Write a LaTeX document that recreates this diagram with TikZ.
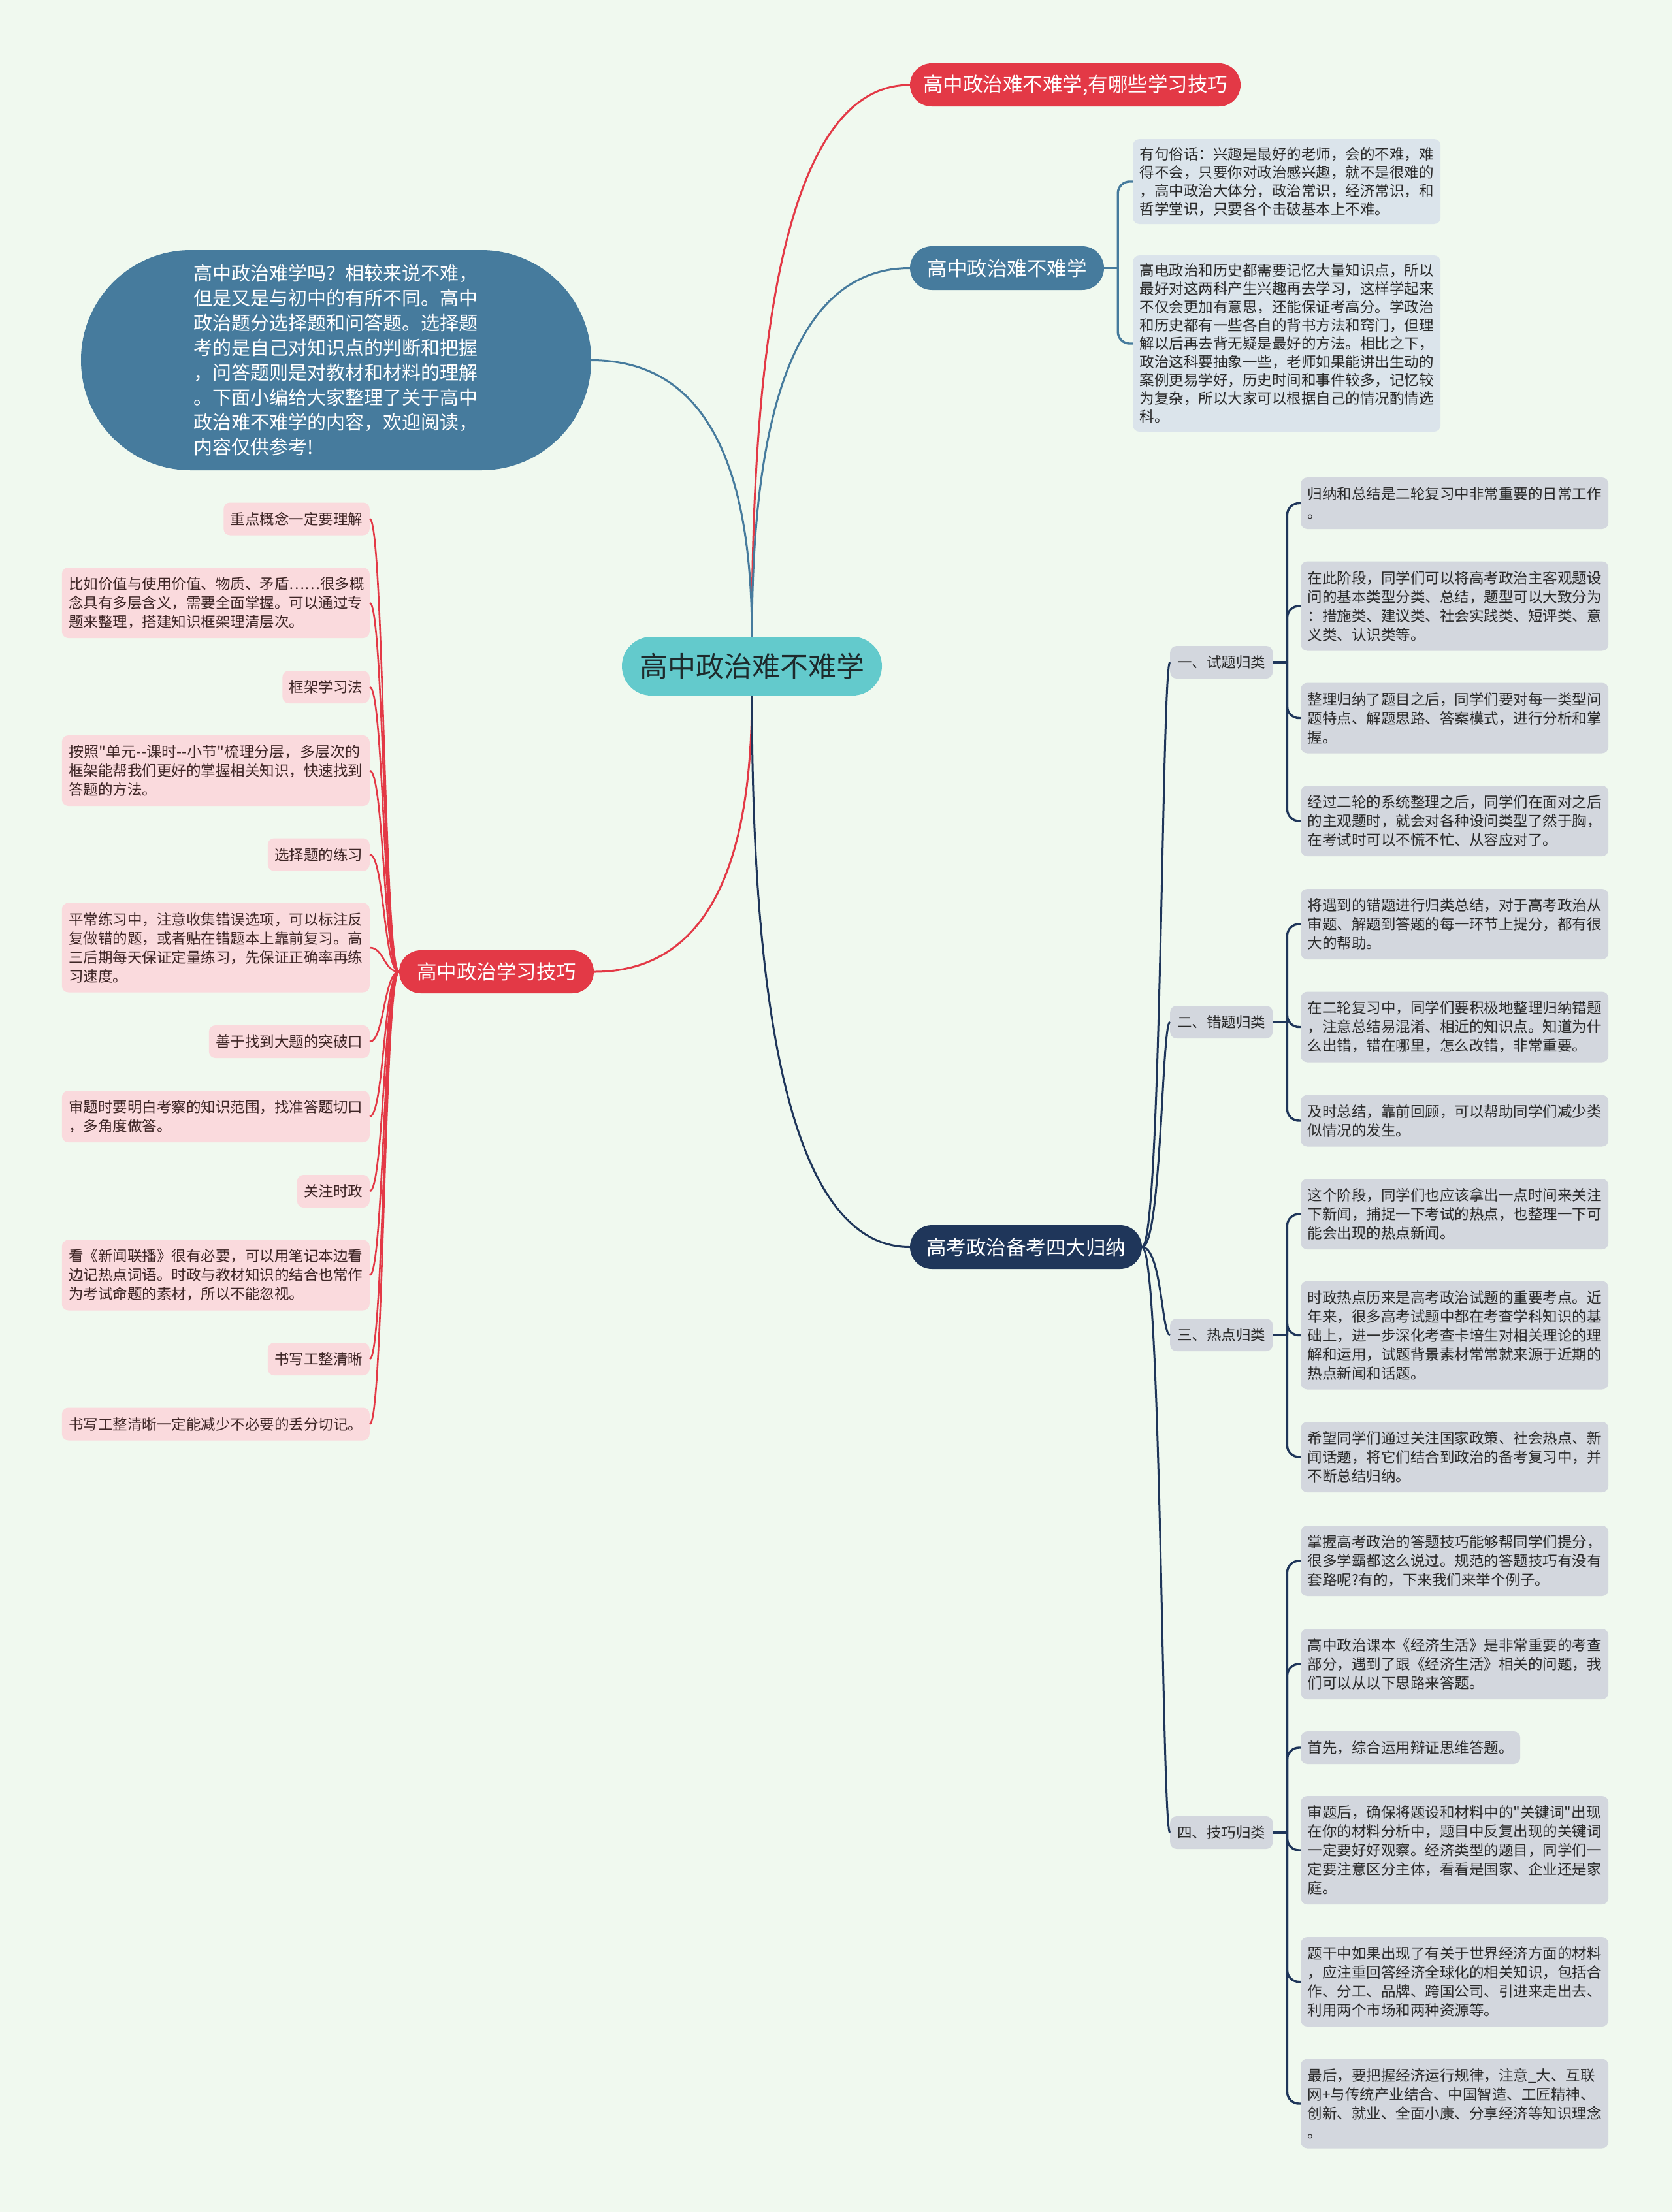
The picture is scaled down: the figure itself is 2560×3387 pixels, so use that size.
\documentclass[tikz,border=0pt]{standalone}
\usepackage{fontspec}
\setmainfont{Noto Sans CJK SC}[Ligatures=TeXOff]
\usetikzlibrary{calc}
\definecolor{bgc}{HTML}{F0F9EF}
\definecolor{ctrfill}{HTML}{63CACC}
\definecolor{ctrtext}{HTML}{1E2A2C}
\definecolor{redc}{HTML}{E33946}
\definecolor{steelc}{HTML}{467B9D}
\definecolor{navyc}{HTML}{1F365A}
\definecolor{pinkc}{HTML}{FADADD}
\definecolor{pinktext}{HTML}{3E2626}
\definecolor{bluegray}{HTML}{DBE4EB}
\definecolor{grayc}{HTML}{D3D7DE}
\definecolor{graytext}{HTML}{2B2B2B}
\tikzset{
  pillnode/.style={inner sep=0pt, text=white, font=\fontsize{30.5}{36}\selectfont},
  txtbox/.style={rounded corners=10pt, inner xsep=10.5pt, inner ysep=3pt, align=left, font=\fontsize{22.5}{29}\selectfont},
  pinkbox/.style={txtbox, fill=pinkc, text=pinktext, anchor=east},
  graybox/.style={txtbox, fill=grayc, text=graytext, anchor=west},
  bluebox/.style={txtbox, fill=bluegray, text=graytext, anchor=west, font=\fontsize{22.5}{28}\selectfont, text width=450pt},
  catbox/.style={txtbox, fill=grayc, text=graytext, anchor=west, minimum height=50pt, minimum width=157pt},
  tw/.style={text width=450pt},
  nl/.style={minimum height={21+29*#1}},
  nb/.style={minimum height={18+28*#1}},
  quadv/.style={to path={.. controls ($(\tikztostart)!0.6667!(\tikztostart|-\tikztotarget)$) and ($(\tikztotarget)!0.6667!(\tikztostart|-\tikztotarget)$) .. (\tikztotarget)}},
  spinec/.style={to path={.. controls ($(\tikztostart)+(#1,0)$) and ($(\tikztostart|-\tikztotarget)+(#1,0)$) .. (\tikztotarget)}},
  mainline/.style={line width=3pt},
  subline/.style={line width=2.6pt},
  brk/.style={line width=3.4pt, rounded corners=18pt},
}
\begin{document}
\begin{tikzpicture}[x=1pt,y=-1pt]
\fill[bgc] (0,0) rectangle (2560,3387);
\useasboundingbox (0,0) rectangle (2560,3387);

% ---------- main nodes ----------
\node[pillnode, fill=ctrfill, text=ctrtext, rounded corners=45pt, minimum width=398pt, minimum height=90pt, font=\fontsize{43}{50}\selectfont] (ctr) at (1151,1020) {高中政治难不难学};
\node[pillnode, fill=redc, rounded corners=33pt, minimum width=506pt, minimum height=66pt] (top1) at (1646,130) {高中政治难不难学,有哪些学习技巧};
\node[pillnode, fill=steelc, rounded corners=33.5pt, minimum width=297pt, minimum height=67pt] (bn) at (1541.5,410.5) {高中政治难不难学};
\node[pillnode, fill=steelc, rounded corners=168pt, minimum width=781pt, minimum height=337pt, text width=436pt, align=left, font=\fontsize{29}{38}\selectfont] (intro) at (514.5,551.5) {高中政治难学吗？相较来说不难，\\但是又是与初中的有所不同。高中\\政治题分选择题和问答题。选择题\\考的是自己对知识点的判断和把握\\，问答题则是对教材和材料的理解\\。下面小编给大家整理了关于高中\\政治难不难学的内容，欢迎阅读，\\内容仅供参考!};
\node[pillnode, fill=redc, rounded corners=33pt, minimum width=298pt, minimum height=66pt] (rl) at (760,1488) {高中政治学习技巧};
\node[pillnode, fill=navyc, rounded corners=33.5pt, minimum width=355pt, minimum height=67pt] (nv) at (1570.5,1909.5) {高考政治备考四大归纳};

% ---------- blue children ----------
\node[bluebox, nb=4] (b1) at (1734,278) {有句俗话：兴趣是最好的老师，会的不难，难\\得不会，只要你对政治感兴趣，就不是很难的\\，高中政治大体分，政治常识，经济常识，和\\哲学堂识，只要各个击破基本上不难。};
\node[bluebox, nb=9] (b2) at (1734,526) {高电政治和历史都需要记忆大量知识点，所以\\最好对这两科产生兴趣再去学习，这样学起来\\不仅会更加有意思，还能保证考高分。学政治\\和历史都有一些各自的背书方法和窍门，但理\\解以后再去背无疑是最好的方法。相比之下，\\政治这科要抽象一些，老师如果能讲出生动的\\案例更易学好，历史时间和事件较多，记忆较\\为复杂，所以大家可以根据自己的情况酌情选\\科。};

% ---------- left pink boxes ----------
\node[pinkbox, nl=1] (l1) at (566,794.5) {重点概念一定要理解};
\node[pinkbox, tw, nl=3] (l2) at (566,923) {比如价值与使用价值、物质、矛盾……很多概\\念具有多层含义，需要全面掌握。可以通过专\\题来整理，搭建知识框架理清层次。};
\node[pinkbox, nl=1] (l3) at (566,1052) {框架学习法};
\node[pinkbox, tw, nl=3] (l4) at (566,1180) {\resizebox{446pt}{\height}{按照"单元--课时--小节"梳理分层，多层次的}\\框架能帮我们更好的掌握相关知识，快速找到\\答题的方法。};
\node[pinkbox, nl=1] (l5) at (566,1308.5) {选择题的练习};
\node[pinkbox, tw, nl=4] (l6) at (566,1451) {平常练习中，注意收集错误选项，可以标注反\\复做错的题，或者贴在错题本上靠前复习。高\\三后期每天保证定量练习，先保证正确率再练\\习速度。};
\node[pinkbox, nl=1] (l7) at (566,1595) {善于找到大题的突破口};
\node[pinkbox, tw, nl=2] (l8) at (566,1709.5) {审题时要明白考察的知识范围，找准答题切口\\，多角度做答。};
\node[pinkbox, nl=1] (l9) at (566,1824) {关注时政};
\node[pinkbox, tw, nl=3] (l10) at (566,1952.5) {看《新闻联播》很有必要，可以用笔记本边看\\边记热点词语。时政与教材知识的结合也常作\\为考试命题的素材，所以不能忽视。};
\node[pinkbox, nl=1] (l11) at (566,2081) {书写工整清晰};
\node[pinkbox, nl=1] (l12) at (566,2180.5) {书写工整清晰一定能减少不必要的丢分切记。};

% ---------- right categories ----------
\node[catbox] (c1) at (1791,1014) {一、试题归类};
\node[catbox] (c2) at (1791,1565) {二、错题归类};
\node[catbox] (c3) at (1791,2044) {三、热点归类};
\node[catbox] (c4) at (1791,2806) {四、技巧归类};

\node[graybox, tw, nl=2] (c1a) at (1991,770.5) {归纳和总结是二轮复习中非常重要的日常工作\\。};
\node[graybox, tw, nl=4] (c1b) at (1991,928) {在此阶段，同学们可以将高考政治主客观题设\\问的基本类型分类、总结，题型可以大致分为\\：措施类、建议类、社会实践类、短评类、意\\义类、认识类等。};
\node[graybox, tw, nl=3] (c1c) at (1991,1099.5) {整理归纳了题目之后，同学们要对每一类型问\\题特点、解题思路、答案模式，进行分析和掌\\握。};
\node[graybox, tw, nl=3] (c1d) at (1991,1257) {经过二轮的系统整理之后，同学们在面对之后\\的主观题时，就会对各种设问类型了然于胸，\\在考试时可以不慌不忙、从容应对了。};

\node[graybox, tw, nl=3] (c2a) at (1991,1415) {将遇到的错题进行归类总结，对于高考政治从\\审题、解题到答题的每一环节上提分，都有很\\大的帮助。};
\node[graybox, tw, nl=3] (c2b) at (1991,1572.5) {在二轮复习中，同学们要积极地整理归纳错题\\，注意总结易混淆、相近的知识点。知道为什\\么出错，错在哪里，怎么改错，非常重要。};
\node[graybox, tw, nl=2] (c2c) at (1991,1716) {及时总结，靠前回顾，可以帮助同学们减少类\\似情况的发生。};

\node[graybox, tw, nl=3] (c3a) at (1991,1859) {这个阶段，同学们也应该拿出一点时间来关注\\下新闻，捕捉一下考试的热点，也整理一下可\\能会出现的热点新闻。};
\node[graybox, tw, nl=5] (c3b) at (1991,2044.5) {时政热点历来是高考政治试题的重要考点。近\\年来，很多高考试题中都在考查学科知识的基\\础上，进一步深化考查卡培生对相关理论的理\\解和运用，试题背景素材常常就来源于近期的\\热点新闻和话题。};
\node[graybox, tw, nl=3] (c3c) at (1991,2231) {希望同学们通过关注国家政策、社会热点、新\\闻话题，将它们结合到政治的备考复习中，并\\不断总结归纳。};

\node[graybox, tw, nl=3] (c4a) at (1991,2390) {掌握高考政治的答题技巧能够帮同学们提分，\\很多学霸都这么说过。规范的答题技巧有没有\\套路呢?有的，下来我们来举个例子。};
\node[graybox, tw, nl=3] (c4b) at (1991,2548) {高中政治课本《经济生活》是非常重要的考查\\部分，遇到了跟《经济生活》相关的问题，我\\们可以从以下思路来答题。};
\node[graybox, nl=1] (c4c) at (1991,2676) {首先，综合运用辩证思维答题。};
\node[graybox, tw, nl=5] (c4d) at (1991,2833) {审题后，确保将题设和材料中的"关键词"出现\\在你的材料分析中，题目中反复出现的关键词\\一定要好好观察。经济类型的题目，同学们一\\定要注意区分主体，看看是国家、企业还是家\\庭。};
\node[graybox, tw, nl=4] (c4e) at (1991,3034.5) {题干中如果出现了有关于世界经济方面的材料\\，应注重回答经济全球化的相关知识，包括合\\作、分工、品牌、跨国公司、引进来走出去、\\利用两个市场和两种资源等。};
\node[graybox, tw, nl=4] (c4f) at (1991,3221) {最后，要把握经济运行规律，注意\_大、互联\\网+与传统产业结合、中国智造、工匠精神、\\创新、就业、全面小康、分享经济等知识理念\\。};

% ---------- connectors from center ----------
\draw[mainline, redc] (ctr.north) to[quadv] (top1.west);
\draw[mainline, steelc] (ctr.north) to[quadv] (bn.west);
\draw[mainline, steelc] (ctr.north) to[quadv] (intro.east);
\draw[mainline, redc] (ctr.south) to[quadv] (rl.east);
\draw[mainline, navyc] (ctr.south) to[quadv] (nv.west);

% ---------- blue bracket ----------
\coordinate (bnj) at ($(bn.east)+(21,0)$);
\draw[brk, steelc] (bn.east) -- (bnj);
\draw[brk, steelc] (bnj) |- (b1.west);
\draw[brk, steelc] (bnj) |- (b2.west);

% ---------- red spine ----------
\foreach \n in {l1,l2,l3,l4,l5,l6,l7,l8,l9,l10,l11,l12}
  \draw[subline, redc] (rl.west) to[spinec=-23] (\n.east);

% ---------- navy spine ----------
\foreach \n in {c1,c2,c3,c4}
  \draw[mainline, navyc] (nv.east) to[spinec=30] (\n.west);

% ---------- category brackets ----------
\coordinate (c1j) at ($(c1.east)+(22,0)$);
\coordinate (c2j) at ($(c2.east)+(22,0)$);
\coordinate (c3j) at ($(c3.east)+(22,0)$);
\coordinate (c4j) at ($(c4.east)+(22,0)$);
\draw[brk, navyc] (c1.east) -- (c1j);
\draw[brk, navyc] (c2.east) -- (c2j);
\draw[brk, navyc] (c3.east) -- (c3j);
\draw[brk, navyc] (c4.east) -- (c4j);
\foreach \n in {c1a,c1b,c1c,c1d} \draw[brk, navyc] (c1j) |- (\n.west);
\foreach \n in {c2a,c2b,c2c} \draw[brk, navyc] (c2j) |- (\n.west);
\foreach \n in {c3a,c3b,c3c} \draw[brk, navyc] (c3j) |- (\n.west);
\foreach \n in {c4a,c4b,c4c,c4d,c4e,c4f} \draw[brk, navyc] (c4j) |- (\n.west);
\end{tikzpicture}
\end{document}
